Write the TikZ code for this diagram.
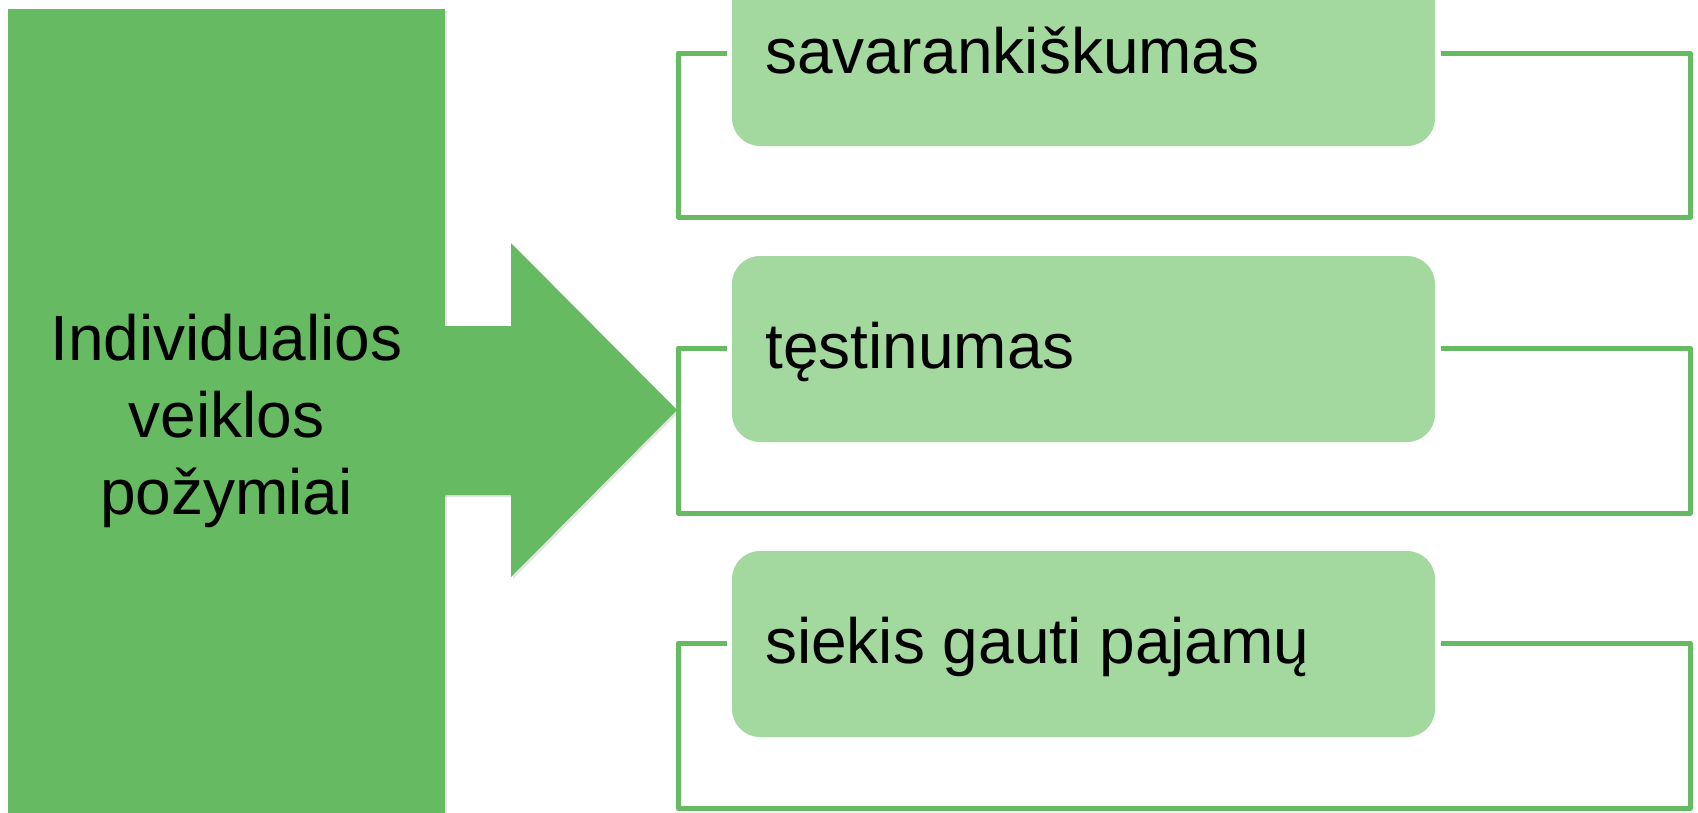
\documentclass[tikz,border=0pt]{standalone}
\usepackage{fontspec}
\setmainfont{Liberation Sans}
\usetikzlibrary{shadows}
\definecolor{dkgreen}{RGB}{102,187,98}
\definecolor{ltgreen}{RGB}{163,216,159}
\begin{document}
\begin{tikzpicture}[x=1pt,y=-1pt,
  bigfont/.style={font=\fontsize{64}{77}\selectfont},
  itembox/.style={rectangle, fill=ltgreen, rounded corners=28pt, minimum width=703pt, minimum height=186pt, inner sep=0pt},
  itemtext/.style={anchor=base west, inner sep=0pt, bigfont, text=black},
  bracket/.style={draw=dkgreen, line width=5pt, line join=round},
  softshadow/.style={drop shadow={opacity=0.22, shadow xshift=2pt, shadow yshift=-2pt}},
]
\useasboundingbox (0,0) rectangle (1698,812);
\fill[white] (0,0) rectangle (1698,812);
% left block
\fill[dkgreen, softshadow] (8,9) rectangle (445,840);
\node[bigfont, align=center, inner sep=0pt] (main) at (226.5,421) {Individualios\\veiklos\\požymiai};
% big arrow
\fill[dkgreen, softshadow] (440,326) -- (511,326) -- (511,243) -- (677,410) -- (511,577) -- (511,495) -- (440,495) -- cycle;
% brackets
\draw[bracket] (727,53) -- (678,53) -- (678,217) -- (1690,217) -- (1690,53) -- (1441,53);
\draw[bracket] (727,348) -- (678,348) -- (678,513) -- (1690,513) -- (1690,348) -- (1441,348);
\draw[bracket] (727,643) -- (678,643) -- (678,808) -- (1690,808) -- (1690,643) -- (1441,643);
% boxes
\node[itembox] (b1) at (1083.5,53) {};
\node[itembox] (b2) at (1083.5,349) {};
\node[itembox] (b3) at (1083.5,644) {};
\node[itemtext] (t1) at (765,73) {savarankiškumas};
\node[itemtext] (t2) at (765,368) {tęstinumas};
\node[itemtext] (t3) at (765,663) {siekis gauti pajamų};
\end{tikzpicture}
\end{document}
